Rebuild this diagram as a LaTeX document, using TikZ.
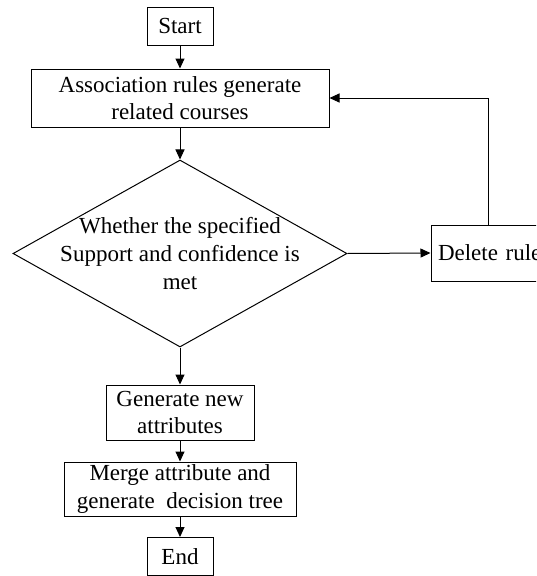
\documentclass[tikz,border=0pt]{standalone}
\usepackage{fontspec}
\setmainfont{Liberation Serif}
\usetikzlibrary{shapes.geometric,arrows.meta}
\begin{document}
\begin{tikzpicture}[x=1pt,y=-1pt,
  every node/.style={font=\fontsize{23}{27.6}\selectfont},
  box/.style={draw,line width=1pt,rectangle,inner sep=0pt,align=center},
  decbox/.style={draw,line width=1pt,diamond,inner sep=0pt,minimum width=334pt,minimum height=187pt},
  arr/.style={line width=1pt,-{Triangle[length=10pt,width=9pt]}}]
\useasboundingbox (0,0) rectangle (536,576);
\clip (0,0) rectangle (536,576);
\node[box,minimum width=66pt,minimum height=38pt] (start) at (180,26) {Start};
\node[box,minimum width=298pt,minimum height=58pt] (assoc) at (180,98) {Association rules generate\\related courses};
\node[decbox,label={[align=center,font=\fontsize{23}{27.6}\selectfont]center:Whether the specified\\Support and confidence is\\met}] (dec) at (180,253.5) {};
\node[box,minimum width=114pt,minimum height=56pt,text width=114pt,align=left] (del) at (488,253) {\hspace*{7pt}Delete rule};
\node[box,minimum width=148pt,minimum height=55pt] (gen) at (180,412.5) {Generate new\\attributes};
\node[box,minimum width=232pt,minimum height=54pt] (merge) at (180,489) {Merge attribute and\\generate~~decision tree};
\node[box,minimum width=66pt,minimum height=38pt] (end) at (180,556.5) {End};
\draw[arr] (start) -- (assoc);
\draw[arr] (assoc) -- (dec);
\draw[arr] (dec.east) -- (del.west);
\draw[arr] (del.north) |- (assoc.east);
\draw[arr] (dec.south) -- (gen);
\draw[arr] (gen) -- (merge);
\draw[arr] (merge) -- (end);
\end{tikzpicture}
\end{document}
